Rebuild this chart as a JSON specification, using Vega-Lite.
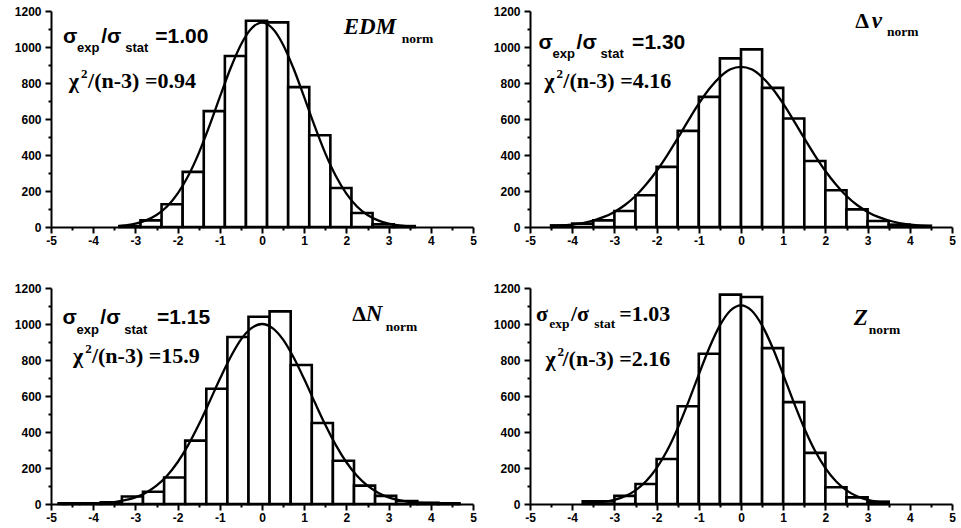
{
  "$schema": "https://vega.github.io/schema/vega-lite/v6.json",
  "background": "white",
  "padding": {"left": 14, "top": 5, "right": 0, "bottom": 0},
  "data": {"values": [
    {"p":"a","k":"bar","x":-3.38,"x2":-2.88,"y":5},
    {"p":"a","k":"bar","x":-2.88,"x2":-2.38,"y":37},
    {"p":"a","k":"bar","x":-2.38,"x2":-1.88,"y":126},
    {"p":"a","k":"bar","x":-1.88,"x2":-1.38,"y":306},
    {"p":"a","k":"bar","x":-1.38,"x2":-0.88,"y":644},
    {"p":"a","k":"bar","x":-0.88,"x2":-0.38,"y":950},
    {"p":"a","k":"bar","x":-0.38,"x2":0.12,"y":1146},
    {"p":"a","k":"bar","x":0.12,"x2":0.62,"y":1137},
    {"p":"a","k":"bar","x":0.62,"x2":1.12,"y":777},
    {"p":"a","k":"bar","x":1.12,"x2":1.62,"y":510},
    {"p":"a","k":"bar","x":1.62,"x2":2.12,"y":217},
    {"p":"a","k":"bar","x":2.12,"x2":2.62,"y":78},
    {"p":"a","k":"bar","x":2.62,"x2":3.12,"y":15},
    {"p":"a","k":"bar","x":3.12,"x2":3.62,"y":5},
    {"p":"a","k":"crv","x":-3.4,"y":4},{"p":"a","k":"crv","x":-3.25,"y":9},{"p":"a","k":"crv","x":-3,"y":19},{"p":"a","k":"crv","x":-2.75,"y":37},
    {"p":"a","k":"crv","x":-2.5,"y":67},{"p":"a","k":"crv","x":-2.25,"y":114},{"p":"a","k":"crv","x":-2,"y":185},{"p":"a","k":"crv","x":-1.75,"y":283},
    {"p":"a","k":"crv","x":-1.5,"y":409},{"p":"a","k":"crv","x":-1.25,"y":559},{"p":"a","k":"crv","x":-1,"y":721},{"p":"a","k":"crv","x":-0.75,"y":879},
    {"p":"a","k":"crv","x":-0.5,"y":1013},{"p":"a","k":"crv","x":-0.25,"y":1103},{"p":"a","k":"crv","x":0,"y":1135},{"p":"a","k":"crv","x":0.25,"y":1103},
    {"p":"a","k":"crv","x":0.5,"y":1013},{"p":"a","k":"crv","x":0.75,"y":879},{"p":"a","k":"crv","x":1,"y":721},{"p":"a","k":"crv","x":1.25,"y":559},
    {"p":"a","k":"crv","x":1.5,"y":409},{"p":"a","k":"crv","x":1.75,"y":283},{"p":"a","k":"crv","x":2,"y":185},{"p":"a","k":"crv","x":2.25,"y":114},
    {"p":"a","k":"crv","x":2.5,"y":67},{"p":"a","k":"crv","x":2.75,"y":37},{"p":"a","k":"crv","x":3,"y":19},{"p":"a","k":"crv","x":3.25,"y":9},
    {"p":"a","k":"crv","x":3.5,"y":4},{"p":"a","k":"crv","x":3.6,"y":3},
    {"p":"a","k":"sans","x":-4.715,"y":1022,"t":"σ"},
    {"p":"a","k":"sans","x":-3.812,"y":1022,"t":"/σ"},
    {"p":"a","k":"sans","x":-2.53,"y":1022,"t":"=1.00"},
    {"p":"a","k":"sanssub","x":-4.382,"y":970,"t":"exp"},
    {"p":"a","k":"sanssub","x":-3.242,"y":970,"t":"stat"},
    {"p":"a","k":"ser","x":-4.58,"y":771,"t":"χ"},
    {"p":"a","k":"ser","x":-4.121,"y":771,"t":"/(n-3) =0.94"},
    {"p":"a","k":"sup","x":-4.287,"y":828,"t":"2"},
    {"p":"a","k":"ital","x":1.936,"y":1072,"t":"EDM"},
    {"p":"a","k":"sersub","x":3.31,"y":1022,"t":"norm"},

    {"p":"b","k":"bar","x":-4.5,"x2":-4,"y":9},
    {"p":"b","k":"bar","x":-4,"x2":-3.5,"y":19},
    {"p":"b","k":"bar","x":-3.5,"x2":-3,"y":37},
    {"p":"b","k":"bar","x":-3,"x2":-2.5,"y":89},
    {"p":"b","k":"bar","x":-2.5,"x2":-2,"y":176},
    {"p":"b","k":"bar","x":-2,"x2":-1.5,"y":334},
    {"p":"b","k":"bar","x":-1.5,"x2":-1,"y":534},
    {"p":"b","k":"bar","x":-1,"x2":-0.5,"y":723},
    {"p":"b","k":"bar","x":-0.5,"x2":0,"y":937},
    {"p":"b","k":"bar","x":0,"x2":0.5,"y":987},
    {"p":"b","k":"bar","x":0.5,"x2":1,"y":773},
    {"p":"b","k":"bar","x":1,"x2":1.5,"y":603},
    {"p":"b","k":"bar","x":1.5,"x2":2,"y":367},
    {"p":"b","k":"bar","x":2,"x2":2.5,"y":204},
    {"p":"b","k":"bar","x":2.5,"x2":3,"y":98},
    {"p":"b","k":"bar","x":3,"x2":3.5,"y":33},
    {"p":"b","k":"bar","x":3.5,"x2":4,"y":13},
    {"p":"b","k":"bar","x":4,"x2":4.5,"y":7},
    {"p":"b","k":"crv","x":-4.5,"y":4},{"p":"b","k":"crv","x":-4.25,"y":8},{"p":"b","k":"crv","x":-4,"y":13},{"p":"b","k":"crv","x":-3.75,"y":22},
    {"p":"b","k":"crv","x":-3.5,"y":36},{"p":"b","k":"crv","x":-3.25,"y":56},{"p":"b","k":"crv","x":-3,"y":84},{"p":"b","k":"crv","x":-2.75,"y":122},
    {"p":"b","k":"crv","x":-2.5,"y":172},{"p":"b","k":"crv","x":-2.25,"y":236},{"p":"b","k":"crv","x":-2,"y":311},{"p":"b","k":"crv","x":-1.75,"y":398},
    {"p":"b","k":"crv","x":-1.5,"y":493},{"p":"b","k":"crv","x":-1.25,"y":591},{"p":"b","k":"crv","x":-1,"y":685},{"p":"b","k":"crv","x":-0.75,"y":768},
    {"p":"b","k":"crv","x":-0.5,"y":833},{"p":"b","k":"crv","x":-0.25,"y":876},{"p":"b","k":"crv","x":0,"y":890},{"p":"b","k":"crv","x":0.25,"y":876},
    {"p":"b","k":"crv","x":0.5,"y":833},{"p":"b","k":"crv","x":0.75,"y":768},{"p":"b","k":"crv","x":1,"y":685},{"p":"b","k":"crv","x":1.25,"y":591},
    {"p":"b","k":"crv","x":1.5,"y":493},{"p":"b","k":"crv","x":1.75,"y":398},{"p":"b","k":"crv","x":2,"y":311},{"p":"b","k":"crv","x":2.25,"y":236},
    {"p":"b","k":"crv","x":2.5,"y":172},{"p":"b","k":"crv","x":2.75,"y":122},{"p":"b","k":"crv","x":3,"y":84},{"p":"b","k":"crv","x":3.25,"y":56},
    {"p":"b","k":"crv","x":3.5,"y":36},{"p":"b","k":"crv","x":3.75,"y":22},{"p":"b","k":"crv","x":4,"y":13},{"p":"b","k":"crv","x":4.25,"y":8},
    {"p":"b","k":"crv","x":4.5,"y":4},
    {"p":"b","k":"sans","x":-4.8,"y":989,"t":"σ"},
    {"p":"b","k":"sans","x":-3.897,"y":989,"t":"/σ"},
    {"p":"b","k":"sans","x":-2.58,"y":989,"t":"=1.30"},
    {"p":"b","k":"sanssub","x":-4.467,"y":937,"t":"exp"},
    {"p":"b","k":"sanssub","x":-3.327,"y":937,"t":"stat"},
    {"p":"b","k":"ser","x":-4.66,"y":770,"t":"χ"},
    {"p":"b","k":"ser","x":-4.21,"y":770,"t":"/(n-3) =4.16"},
    {"p":"b","k":"sup","x":-4.37,"y":827,"t":"2"},
    {"p":"b","k":"ser","x":2.71,"y":1104,"t":"Δ"},
    {"p":"b","k":"ital","x":3.1,"y":1104,"t":"ν"},
    {"p":"b","k":"sersub","x":3.46,"y":1061,"t":"norm"},

    {"p":"c","k":"bar","x":-4.82,"x2":-4.32,"y":4},
    {"p":"c","k":"bar","x":-4.32,"x2":-3.82,"y":4},
    {"p":"c","k":"bar","x":-3.82,"x2":-3.32,"y":9},
    {"p":"c","k":"bar","x":-3.32,"x2":-2.82,"y":42},
    {"p":"c","k":"bar","x":-2.82,"x2":-2.32,"y":68},
    {"p":"c","k":"bar","x":-2.32,"x2":-1.82,"y":147},
    {"p":"c","k":"bar","x":-1.82,"x2":-1.32,"y":352},
    {"p":"c","k":"bar","x":-1.32,"x2":-0.82,"y":640},
    {"p":"c","k":"bar","x":-0.82,"x2":-0.32,"y":928},
    {"p":"c","k":"bar","x":-0.32,"x2":0.18,"y":1040},
    {"p":"c","k":"bar","x":0.18,"x2":0.68,"y":1070},
    {"p":"c","k":"bar","x":0.68,"x2":1.18,"y":772},
    {"p":"c","k":"bar","x":1.18,"x2":1.68,"y":450},
    {"p":"c","k":"bar","x":1.68,"x2":2.18,"y":240},
    {"p":"c","k":"bar","x":2.18,"x2":2.68,"y":102},
    {"p":"c","k":"bar","x":2.68,"x2":3.18,"y":45},
    {"p":"c","k":"bar","x":3.18,"x2":3.68,"y":17},
    {"p":"c","k":"bar","x":3.68,"x2":4.18,"y":7},
    {"p":"c","k":"bar","x":4.18,"x2":4.68,"y":4},
    {"p":"c","k":"crv","x":-4.75,"y":0},{"p":"c","k":"crv","x":-4.5,"y":1},{"p":"c","k":"crv","x":-4.25,"y":1},{"p":"c","k":"crv","x":-4,"y":3},
    {"p":"c","k":"crv","x":-3.75,"y":6},{"p":"c","k":"crv","x":-3.5,"y":11},{"p":"c","k":"crv","x":-3.25,"y":21},{"p":"c","k":"crv","x":-3,"y":37},
    {"p":"c","k":"crv","x":-2.75,"y":63},{"p":"c","k":"crv","x":-2.5,"y":102},{"p":"c","k":"crv","x":-2.25,"y":157},{"p":"c","k":"crv","x":-2,"y":232},
    {"p":"c","k":"crv","x":-1.75,"y":327},{"p":"c","k":"crv","x":-1.5,"y":440},{"p":"c","k":"crv","x":-1.25,"y":565},{"p":"c","k":"crv","x":-1,"y":694},
    {"p":"c","k":"crv","x":-0.75,"y":814},{"p":"c","k":"crv","x":-0.5,"y":913},{"p":"c","k":"crv","x":-0.25,"y":977},{"p":"c","k":"crv","x":0,"y":1000},
    {"p":"c","k":"crv","x":0.25,"y":977},{"p":"c","k":"crv","x":0.5,"y":913},{"p":"c","k":"crv","x":0.75,"y":814},{"p":"c","k":"crv","x":1,"y":694},
    {"p":"c","k":"crv","x":1.25,"y":565},{"p":"c","k":"crv","x":1.5,"y":440},{"p":"c","k":"crv","x":1.75,"y":327},{"p":"c","k":"crv","x":2,"y":232},
    {"p":"c","k":"crv","x":2.25,"y":157},{"p":"c","k":"crv","x":2.5,"y":102},{"p":"c","k":"crv","x":2.75,"y":63},{"p":"c","k":"crv","x":3,"y":37},
    {"p":"c","k":"crv","x":3.25,"y":21},{"p":"c","k":"crv","x":3.5,"y":11},{"p":"c","k":"crv","x":3.75,"y":6},{"p":"c","k":"crv","x":4,"y":3},
    {"p":"c","k":"crv","x":4.25,"y":1},{"p":"c","k":"crv","x":4.5,"y":1},{"p":"c","k":"crv","x":4.7,"y":0},
    {"p":"c","k":"sans","x":-4.725,"y":999,"t":"σ"},
    {"p":"c","k":"sans","x":-3.831,"y":999,"t":"/σ"},
    {"p":"c","k":"sans","x":-2.49,"y":999,"t":"=1.15"},
    {"p":"c","k":"sanssub","x":-4.396,"y":947,"t":"exp"},
    {"p":"c","k":"sanssub","x":-3.266,"y":947,"t":"stat"},
    {"p":"c","k":"ser","x":-4.48,"y":781,"t":"χ"},
    {"p":"c","k":"ser","x":-4.03,"y":781,"t":"/(n-3) =15.9"},
    {"p":"c","k":"sup","x":-4.19,"y":838,"t":"2"},
    {"p":"c","k":"ser","x":2.137,"y":1014,"t":"Δ"},
    {"p":"c","k":"ital","x":2.46,"y":1014,"t":"N"},
    {"p":"c","k":"sersub","x":2.93,"y":962,"t":"norm"},

    {"p":"d","k":"bar","x":-3.75,"x2":-3.5,"y":15},
    {"p":"d","k":"bar","x":-3.5,"x2":-3,"y":15},
    {"p":"d","k":"bar","x":-3,"x2":-2.5,"y":45},
    {"p":"d","k":"bar","x":-2.5,"x2":-2,"y":111},
    {"p":"d","k":"bar","x":-2,"x2":-1.5,"y":250},
    {"p":"d","k":"bar","x":-1.5,"x2":-1,"y":543},
    {"p":"d","k":"bar","x":-1,"x2":-0.5,"y":835},
    {"p":"d","k":"bar","x":-0.5,"x2":0,"y":1163},
    {"p":"d","k":"bar","x":0,"x2":0.5,"y":1150},
    {"p":"d","k":"bar","x":0.5,"x2":1,"y":866},
    {"p":"d","k":"bar","x":1,"x2":1.5,"y":566},
    {"p":"d","k":"bar","x":1.5,"x2":2,"y":284},
    {"p":"d","k":"bar","x":2,"x2":2.5,"y":93},
    {"p":"d","k":"bar","x":2.5,"x2":3,"y":37},
    {"p":"d","k":"bar","x":3,"x2":3.5,"y":13},
    {"p":"d","k":"crv","x":-3.75,"y":3},{"p":"d","k":"crv","x":-3.5,"y":6},{"p":"d","k":"crv","x":-3.25,"y":12},{"p":"d","k":"crv","x":-3,"y":23},
    {"p":"d","k":"crv","x":-2.75,"y":43},{"p":"d","k":"crv","x":-2.5,"y":76},{"p":"d","k":"crv","x":-2.25,"y":126},{"p":"d","k":"crv","x":-2,"y":199},
    {"p":"d","k":"crv","x":-1.75,"y":297},{"p":"d","k":"crv","x":-1.5,"y":421},{"p":"d","k":"crv","x":-1.25,"y":565},{"p":"d","k":"crv","x":-1,"y":719},
    {"p":"d","k":"crv","x":-0.75,"y":868},{"p":"d","k":"crv","x":-0.5,"y":992},{"p":"d","k":"crv","x":-0.25,"y":1075},{"p":"d","k":"crv","x":0,"y":1104},
    {"p":"d","k":"crv","x":0.25,"y":1075},{"p":"d","k":"crv","x":0.5,"y":992},{"p":"d","k":"crv","x":0.75,"y":868},{"p":"d","k":"crv","x":1,"y":719},
    {"p":"d","k":"crv","x":1.25,"y":565},{"p":"d","k":"crv","x":1.5,"y":421},{"p":"d","k":"crv","x":1.75,"y":297},{"p":"d","k":"crv","x":2,"y":199},
    {"p":"d","k":"crv","x":2.25,"y":126},{"p":"d","k":"crv","x":2.5,"y":76},{"p":"d","k":"crv","x":2.75,"y":43},{"p":"d","k":"crv","x":3,"y":23},
    {"p":"d","k":"crv","x":3.25,"y":12},{"p":"d","k":"crv","x":3.5,"y":6},
    {"p":"d","k":"ser","x":-4.858,"y":1015,"t":"σ"},
    {"p":"d","k":"ser","x":-4.03,"y":1015,"t":"/σ"},
    {"p":"d","k":"ser","x":-2.887,"y":1015,"t":"=1.03"},
    {"p":"d","k":"sersub","x":-4.543,"y":976,"t":"exp"},
    {"p":"d","k":"sersub","x":-3.479,"y":976,"t":"stat"},
    {"p":"d","k":"ser","x":-4.63,"y":764,"t":"χ"},
    {"p":"d","k":"ser","x":-4.23,"y":764,"t":"/(n-3) =2.16"},
    {"p":"d","k":"sup","x":-4.35,"y":821,"t":"2"},
    {"p":"d","k":"ital","x":2.672,"y":992,"t":"Z"},
    {"p":"d","k":"sersub","x":3.027,"y":946,"t":"norm"}
  ]},
  "facet": {"field": "p", "type": "nominal", "header": {"title": null, "labels": false, "labelFontSize": 0, "labelPadding": 0, "labelExpr": "''"}},
  "columns": 2,
  "spacing": {"row": 61, "column": 57},
  "bounds": "flush",
  "resolve": {"axis": {"x": "independent", "y": "independent"}},
  "spec": {
    "width": 422,
    "height": 216,
    "encoding": {
      "x": {"field": "x", "type": "quantitative",
        "scale": {"domain": [-5, 5], "nice": false, "zero": false},
        "axis": {"title": null, "values": [-5,-4.5,-4,-3.5,-3,-2.5,-2,-1.5,-1,-0.5,0,0.5,1,1.5,2,2.5,3,3.5,4,4.5,5],
          "labelExpr": "datum.value % 1 === 0 ? '' + datum.value : ''",
          "tickSize": {"condition": {"test": "datum.value % 1 === 0", "value": 6}, "value": 3},
          "labelPadding": 2}},
      "y": {"field": "y", "type": "quantitative",
        "scale": {"domain": [0, 1200], "nice": false},
        "axis": {"title": null, "values": [0,100,200,300,400,500,600,700,800,900,1000,1100,1200],
          "labelExpr": "datum.value % 200 === 0 ? '' + datum.value : ''",
          "tickSize": {"condition": {"test": "datum.value % 200 === 0", "value": 6}, "value": 3},
          "labelPadding": 4}}
    },
    "layer": [
      {"transform": [{"filter": "datum.k === 'bar'"}],
       "mark": {"type": "bar", "fill": "white", "stroke": "black", "strokeWidth": 2.6},
       "encoding": {"x2": {"field": "x2"}, "y2": {"datum": 0}}},
      {"transform": [{"filter": "datum.k === 'crv'"}],
       "mark": {"type": "line", "color": "black", "strokeWidth": 2.3, "interpolate": "monotone"},
       "encoding": {}},
      {"transform": [{"filter": "datum.k === 'sans'"}],
       "mark": {"type": "text", "align": "left", "baseline": "alphabetic", "font": "Liberation Sans", "fontWeight": "bold", "fontSize": 21, "color": "black"},
       "encoding": {"text": {"field": "t"}}},
      {"transform": [{"filter": "datum.k === 'sanssub'"}],
       "mark": {"type": "text", "align": "left", "baseline": "alphabetic", "font": "Liberation Sans", "fontWeight": "bold", "fontSize": 13, "color": "black"},
       "encoding": {"text": {"field": "t"}}},
      {"transform": [{"filter": "datum.k === 'ser'"}],
       "mark": {"type": "text", "align": "left", "baseline": "alphabetic", "font": "'Liberation Serif', 'DejaVu Serif', serif", "fontWeight": "bold", "fontSize": 22, "color": "black"},
       "encoding": {"text": {"field": "t"}}},
      {"transform": [{"filter": "datum.k === 'sersub'"}],
       "mark": {"type": "text", "align": "left", "baseline": "alphabetic", "font": "'Liberation Serif', 'DejaVu Serif', serif", "fontWeight": "bold", "fontSize": 13.5, "color": "black"},
       "encoding": {"text": {"field": "t"}}},
      {"transform": [{"filter": "datum.k === 'sup'"}],
       "mark": {"type": "text", "align": "left", "baseline": "alphabetic", "font": "'Liberation Serif', 'DejaVu Serif', serif", "fontWeight": "bold", "fontSize": 13, "color": "black"},
       "encoding": {"text": {"field": "t"}}},
      {"transform": [{"filter": "datum.k === 'ital'"}],
       "mark": {"type": "text", "align": "left", "baseline": "alphabetic", "font": "'Liberation Serif', 'DejaVu Serif', serif", "fontWeight": "bold", "fontStyle": "italic", "fontSize": 23, "color": "black"},
       "encoding": {"text": {"field": "t"}}}
    ]
  },
  "config": {
    "view": {"stroke": null},
    "header": {"title": null, "labels": false},
    "axis": {"domainColor": "black", "domainWidth": 2, "tickColor": "black", "tickWidth": 2,
      "labelFont": "Liberation Sans", "labelFontWeight": "bold", "labelFontSize": 12, "labelColor": "black",
      "grid": false, "labelFlush": false, "labelOverlap": false}
  }
}
